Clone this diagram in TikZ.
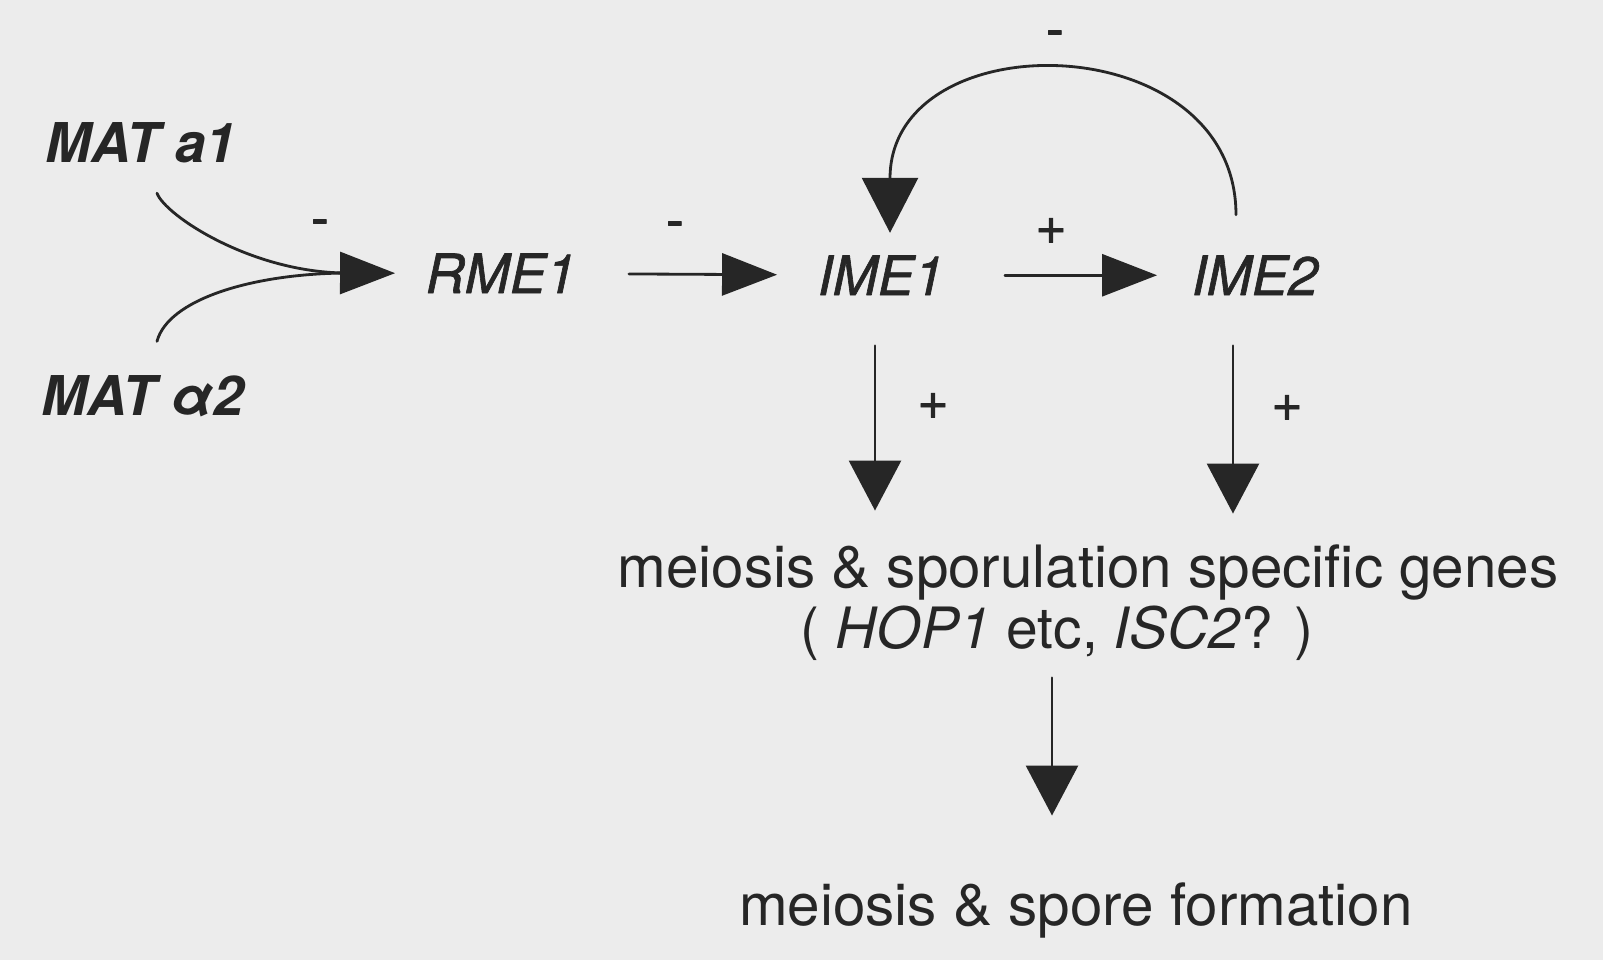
\documentclass[tikz,border=0pt]{standalone}
\usepackage{fontspec}
\setmainfont{TeX Gyre Heros}
\newfontfamily\genefont[FakeBold=1.2]{TeX Gyre Heros}
\usepackage{xcolor}
\usetikzlibrary{arrows.meta,positioning}
\definecolor{scanPaper}{HTML}{ECECEC}
\definecolor{scanInk}{HTML}{262626}
\tikzset{
  gene diagram/.style={x=0.01cm, y=-0.01cm, text=scanInk,
    line cap=round, line join=round},
  gene/.style={inner sep=0pt, anchor=base,
    font=\fontsize{15.4}{18}\selectfont\genefont\itshape},
  mat gene/.style={gene, font=\fontsize{15.6}{18}\selectfont\bfseries\itshape},
  gene text/.style={inner sep=0pt, anchor=base,
    font=\fontsize{16.6}{20}\selectfont},
  gene sign/.style={inner sep=0pt, font=\fontsize{15.4}{18}\selectfont\genefont},
  gene line/.style={draw=scanInk, line width=0.8pt},
  gene arrow/.style={gene line, -{Triangle[length=5.5mm, width=4.2mm]}},
  down arrow/.style={gene line, -{Triangle[length=5mm, width=5.2mm]}},
  feedback arrow/.style={gene line, -{Triangle[length=5.5mm, width=5.6mm]}}
}
\begin{document}
\begin{tikzpicture}[gene diagram]
\useasboundingbox[fill=scanPaper] (0,0) rectangle (1603,960);
\node[mat gene] (mata1) at (141,162) {MAT a1};
\node[mat gene] (matb2) at (143,415) {MAT α2};
\node[gene] (rme) at (501,293) {RME1};
\node[gene] (ime1) at (881,295) {IME1};
\node[gene] (ime2) at (1255,295) {IME2};
\node[gene text] (genes) at (1088,587) {meiosis \& sporulation specific genes};
\node[gene text, font=\fontsize{16.2}{20}\selectfont] (genesex) at (1057,648) {( \textit{HOP1} etc, \textit{ISC2}? )};
\node[gene text] (spore) at (1076,925) {meiosis \& spore formation};
% signs on the arrows
\node[gene sign] (matsign) at (320,228) {-};
\node[gene sign] (rmesign) at (675,230) {-};
\node[gene sign] (imesign) at (1051,231) {+};
\node[gene sign] (fbsign) at (1055,39) {-};
\node[gene sign] (ime1sign) at (933,406) {+};
\node[gene sign] (ime2sign) at (1287,408) {+};
% MAT inputs merge into one arrow
\coordinate (merge) at (345,273);
\draw[gene line] ([shift={(16,30)}]mata1.south) .. controls (165,215) and (250,272) .. (merge);
\draw[gene line] ([shift={(14,-33)}]matb2.north) .. controls (168,300) and (250,274) .. (merge);
\draw[gene arrow, shorten >=0.3cm] (merge) -- (rme.west);
\draw[gene arrow, shorten <=0.52cm, shorten >=0.4cm] (rme) -- (ime1);
\draw[gene arrow, shorten <=0.6cm, shorten >=0.34cm] (ime1) -- (ime2);
\draw[feedback arrow, shorten <=0.4cm, shorten >=0.22cm] ([xshift=-0.19cm]ime2.north)
  .. controls +(0,-230) and +(0,-235) .. ([xshift=0.09cm]ime1.north);
\draw[down arrow, shorten <=0.5cm, shorten >=0.33cm] ([xshift=-0.06cm]ime1.south)
  -- ([xshift=-0.06cm]ime1.south |- genes.north);
\draw[down arrow, shorten <=0.5cm, shorten >=0.3cm] ([xshift=-0.22cm]ime2.south)
  -- ([xshift=-0.22cm]ime2.south |- genes.north);
\draw[down arrow, shorten <=0.17cm, shorten >=0.66cm] ([xshift=-0.05cm]genesex.south)
  -- ([xshift=-0.05cm]genesex.south |- spore.north);
\end{tikzpicture}
\end{document}
